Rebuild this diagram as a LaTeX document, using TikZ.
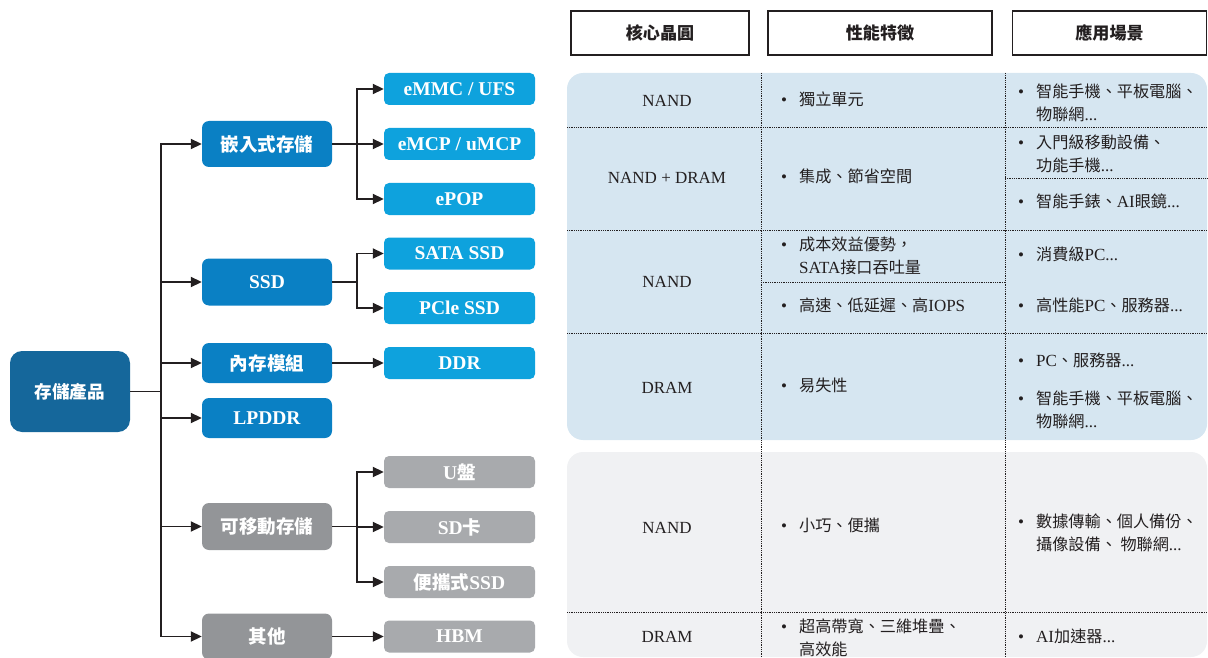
\documentclass[tikz,border=0pt]{standalone}
\usepackage{fontspec}
\setmainfont{Liberation Serif}
\newfontfamily\cjk[Scale=0.95]{Noto Sans CJK TC}
\newcommand{\zh}[1]{{\cjk #1}}
\newcommand{\bl}[1]{\begin{tabular}{@{}l@{\hspace{12pt}}l@{}}\textbullet&#1\end{tabular}}
\usetikzlibrary{arrows.meta,calc}
\definecolor{rootc}{HTML}{15679B}
\definecolor{lvtwo}{HTML}{0A80C4}
\definecolor{lvthree}{HTML}{0EA2DD}
\definecolor{greytwo}{HTML}{939598}
\definecolor{greythree}{HTML}{A8AAAD}
\definecolor{panelblue}{HTML}{D6E6F1}
\definecolor{panelgrey}{HTML}{F0F1F3}
\definecolor{ink}{HTML}{231F20}
\tikzset{
  box/.style={rounded corners=7pt, text=white, inner sep=0pt, align=center},
  rootbox/.style={box, fill=rootc, minimum width=120pt, minimum height=81pt, rounded corners=12pt, font=\fontsize{18.5}{21}\selectfont\bfseries},
  ltwo/.style={box, fill=lvtwo, minimum width=130pt, font=\fontsize{19.5}{22}\selectfont\bfseries},
  gtwo/.style={ltwo, fill=greytwo},
  lthree/.style={box, fill=lvthree, rounded corners=5pt, minimum width=151pt, minimum height=32pt, font=\fontsize{19.5}{22}\selectfont\bfseries},
  gthree/.style={lthree, fill=greythree},
  conn/.style={draw=ink, line width=1.9pt, -{Triangle[length=11pt,width=10pt]}},
  hdr/.style={draw=ink, line width=1.6pt, fill=white, inner sep=0pt, minimum height=44pt, font=\fontsize{18}{20}\selectfont\bfseries, text=ink},
  dots/.style={draw=ink, line width=0.9pt, dash pattern=on 0.9pt off 0.9pt},
  cell/.style={inner sep=0pt, align=left, text=ink, font=\fontsize{17}{23}\selectfont},
}
\begin{document}
\begin{tikzpicture}[x=1pt,y=-1pt]
\useasboundingbox (0,0) rectangle (1208,658);

% ---------- tree ----------
\node[rootbox] (root) at (70,391.5) {\zh{存儲產品}};

\node[ltwo, minimum height=46pt] (emb) at (267,144) {\zh{嵌入式存儲}};
\node[ltwo, minimum height=47pt] (ssd) at (267,282) {SSD};
\node[ltwo, minimum height=40pt] (mem) at (267,363) {\zh{內存模組}};
\node[ltwo, minimum height=40pt] (lpddr) at (267,418) {LPDDR};
\node[gtwo, minimum height=47pt] (mov) at (267,526.5) {\zh{可移動存儲}};
\node[gtwo, minimum height=46pt] (oth) at (267,636.5) {\zh{其他}};

\node[lthree] (emmc) at (459.5,89) {eMMC / UFS};
\node[lthree] (emcp) at (459.5,144) {eMCP / uMCP};
\node[lthree] (epop) at (459.5,199) {ePOP};
\node[lthree] (sata) at (459.5,253.5) {SATA SSD};
\node[lthree] (pcie) at (459.5,308) {PCle SSD};
\node[lthree] (ddr) at (459.5,363) {DDR};
\node[gthree] (udisk) at (459.5,472) {U\zh{盤}};
\node[gthree] (sdc) at (459.5,527) {SD\zh{卡}};
\node[gthree] (pssd) at (459.5,582) {\zh{便攜式}SSD};
\node[gthree] (hbm) at (459.5,636.5) {HBM};

\foreach \t in {emb,ssd,mem,lpddr,mov,oth}
  \draw[conn] (root.east) -- ++(31,0) |- (\t.west);
\foreach \t in {emmc,emcp,epop}
  \draw[conn] (emb.east) -- ++(25,0) |- (\t.west);
\foreach \t in {sata,pcie}
  \draw[conn] (ssd.east) -- ++(25,0) |- (\t.west);
\foreach \t in {udisk,sdc,pssd}
  \draw[conn] (mov.east) -- ++(25,0) |- (\t.west);
\draw[conn] (mem.east) -- (ddr.west);
\draw[conn] (oth.east) -- (hbm.west);

% ---------- headers ----------
\node[hdr, minimum width=178pt] (h1) at (660,33) {\zh{核心晶圓}};
\node[hdr, minimum width=224pt] (h2) at (880,33) {\zh{性能特徵}};
\node[hdr, minimum width=194pt] (h3) at (1109.5,33) {\zh{應用場景}};

% ---------- panels ----------
\fill[panelblue, rounded corners=16pt] (567,73) rectangle (1207,440);
\fill[panelgrey, rounded corners=16pt] (567,452) rectangle (1207,657);

% dotted grid
\draw[dots] (761,73) -- (761,658);
\draw[dots] (1005,73) -- (1005,658);
\draw[dots] (567,127) -- (1207,127);
\draw[dots] (1005,178) -- (1207,178);
\draw[dots] (567,230) -- (1207,230);
\draw[dots] (761,282) -- (1005,282);
\draw[dots] (567,333) -- (1207,333);
\draw[dots] (567,612) -- (1207,612);

% column 1
\node[cell] (c1a) at (667,101) {NAND};
\node[cell] (c1b) at (667,178) {NAND + DRAM};
\node[cell] (c1c) at (667,282) {NAND};
\node[cell] (c1d) at (667,388) {DRAM};
\node[cell] (c1e) at (667,528) {NAND};
\node[cell] (c1f) at (667,637) {DRAM};

% column 2
\node[cell, anchor=west] (c2a) at (781,101) {\bl{\zh{獨立單元}}};
\node[cell, anchor=west] (c2b) at (781,178) {\bl{\zh{集成、節省空間}}};
\node[cell, anchor=west] (c2c) at (781,257) {\bl{\zh{成本效益優勢，}\\&SATA\zh{接口吞吐量}}};
\node[cell, anchor=west] (c2d) at (781,307) {\bl{\zh{高速、低延遲、高}IOPS}};
\node[cell, anchor=west] (c2e) at (781,387) {\bl{\zh{易失性}}};
\node[cell, anchor=west] (c2f) at (781,527) {\bl{\zh{小巧、便攜}}};
\node[cell, anchor=west] (c2g) at (781,639) {\bl{\zh{超高帶寬、三維堆疊、}\\&\zh{高效能}}};

% column 3
\node[cell, anchor=west] (c3a) at (1018,104) {\bl{\zh{智能手機、平板電腦、}\\&\zh{物聯網}...}};
\node[cell, anchor=west] (c3b) at (1018,155) {\bl{\zh{入門級移動設備、}\\&\zh{功能手機}...}};
\node[cell, anchor=west] (c3c) at (1018,203) {\bl{\zh{智能手錶、}AI\zh{眼鏡}...}};
\node[cell, anchor=west] (c3d) at (1018,256) {\bl{\zh{消費級}PC...}};
\node[cell, anchor=west] (c3e) at (1018,307) {\bl{\zh{高性能}PC\zh{、服務器}...}};
\node[cell, anchor=west] (c3f) at (1018,362) {\bl{PC\zh{、服務器}...}};
\node[cell, anchor=west] (c3g) at (1018,411) {\bl{\zh{智能手機、平板電腦、}\\&\zh{物聯網}...}};
\node[cell, anchor=west] (c3h) at (1018,534) {\bl{\zh{數據傳輸、個人備份、}\\&\zh{攝像設備、 物聯網}...}};
\node[cell, anchor=west] (c3i) at (1018,638) {\bl{AI\zh{加速器}...}};
\end{tikzpicture}
\end{document}
